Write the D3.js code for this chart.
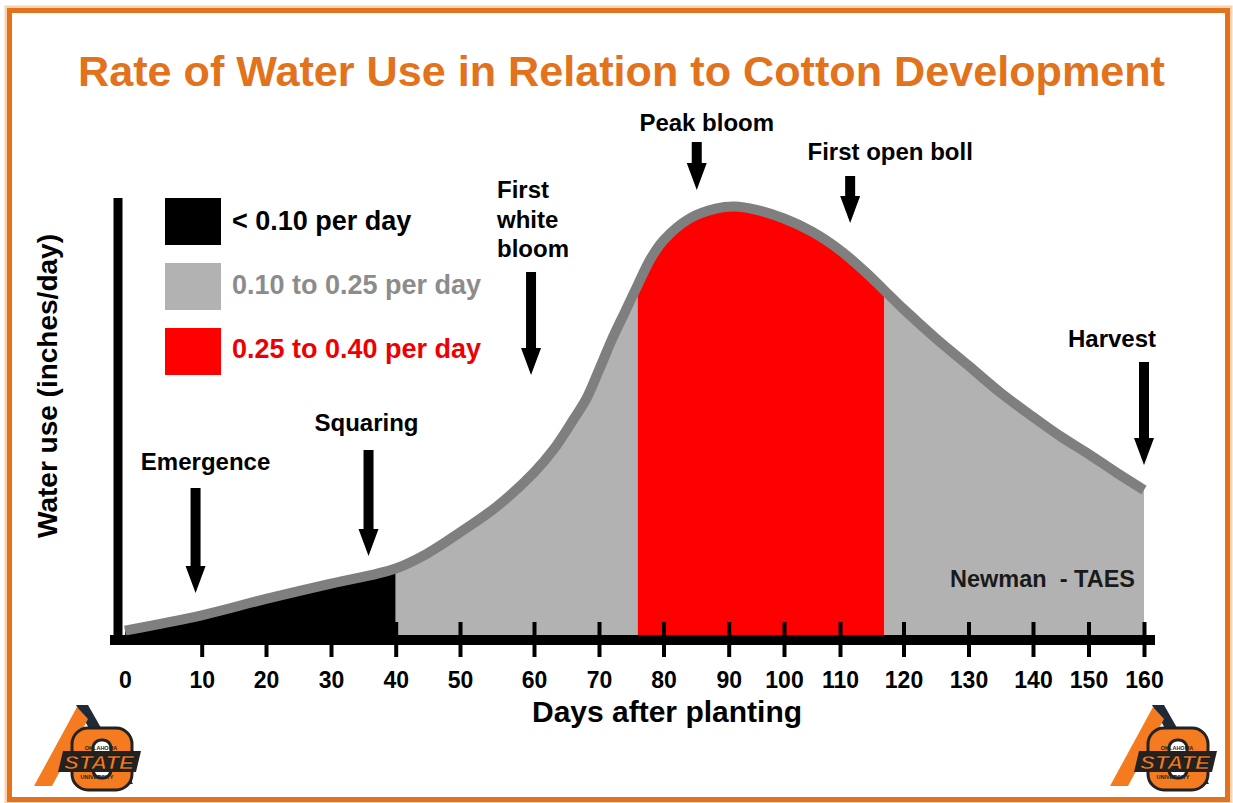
<!DOCTYPE html>
<html>
<head>
<meta charset="utf-8">
<script src="https://cdnjs.cloudflare.com/ajax/libs/d3/7.8.5/d3.min.js"></script>
<style>
  body { margin: 0; background: #fff; }
  svg { display: block; font-family: "Liberation Sans", Arial, sans-serif; font-weight: bold; }
</style>
</head>
<body>
<div id="chart"></div>
<script>
// days after planting and water use (inches/day)
const days = [0, 10, 20, 30, 40, 45, 50, 55, 60, 63, 66, 68, 70, 72, 74, 76, 78, 80, 84, 88, 91, 95, 100, 105, 110, 114, 117, 120, 125, 130, 135, 140, 145, 150, 155, 160];
const waterUse = [0.005, 0.019, 0.034, 0.048, 0.062, 0.076, 0.095, 0.119, 0.150, 0.171, 0.198, 0.217, 0.244, 0.272, 0.297, 0.322, 0.346, 0.363, 0.383, 0.392, 0.394, 0.391, 0.383, 0.371, 0.354, 0.334, 0.317, 0.300, 0.273, 0.248, 0.223, 0.201, 0.183, 0.167, 0.150, 0.134];

// rate classes and the day ranges they cover
const rateLabels = ["< 0.10 per day", "0.10 to 0.25 per day", "0.25 to 0.40 per day"];
const bandStart = [0, 40, 76, 117];
const bandEnd = [40, 76, 117, 160];
const bandRate = [0, 1, 2, 1];

// growth stages
const stageNames = [["Emergence"], ["Squaring"], ["First", "white", "bloom"], ["Peak bloom"], ["First open boll"], ["Harvest"]];
const stageDays = [9.2, 35.8, 59.6, 85.1, 111.6, 160];

const tickDays = [0, 10, 20, 30, 40, 50, 60, 70, 80, 90, 100, 110, 120, 130, 140, 150, 160];

// ---- layout
const W = 1233, H = 803;
const axisPx = [125, 201.7, 266, 331, 395.7, 460, 534, 599, 663.5, 728.7, 784, 840, 903.5, 968.5, 1033, 1088.5, 1144];
const rateColors = ["#000000", "#b2b2b2", "#ff0000"];
const rateText = ["#000000", "#8c8c8c", "#ee0000"];
const orange = "#e2721c";

// label placement for each stage: dx of text from arrow, text baseline, arrow top, arrow tip
const stageLayout = [
  {dx: 10, base: 470, top: 488, tip: 593, anchor: "middle"},
  {dx: -2, base: 431, top: 450, tip: 556, anchor: "middle"},
  {dx: -34, base: 198, top: 272, tip: 375, anchor: "start"},
  {dx: 10, base: 131, top: 142, tip: 190, anchor: "middle"},
  {dx: 40, base: 160, top: 176, tip: 223, anchor: "middle"},
  {dx: -32, base: 347, top: 362, tip: 465, anchor: "middle"}
];

const svg = d3.select("#chart").append("svg")
  .attr("width", W).attr("height", H);

// frame
svg.append("rect").attr("x", 9.5).attr("y", 10.5).attr("width", 1218).attr("height", 789)
  .attr("fill", "none").attr("stroke", "#f8d3b0").attr("stroke-width", 10);
svg.append("rect").attr("x", 9.5).attr("y", 10.5).attr("width", 1218).attr("height", 789)
  .attr("fill", "#fff").attr("stroke", orange).attr("stroke-width", 5);

// title
svg.append("text").attr("x", 78).attr("y", 86)
  .attr("textLength", 1087).attr("lengthAdjust", "spacingAndGlyphs")
  .attr("font-size", 42).attr("fill", orange)
  .text("Rate of Water Use in Relation to Cotton Development");

const x = d3.scaleLinear().domain(tickDays).range(axisPx);
const y = d3.scaleLinear().domain([0, 0.4]).range([636, 200]);

const pts = days.map((d, i) => ({day: d, v: waterUse[i]}));

const curve = d3.curveCatmullRom.alpha(0.5);
const area = d3.area()
  .x(d => x(d.day)).y0(y(0)).y1(d => y(d.v))
  .curve(curve);
const line = d3.line()
  .x(d => x(d.day)).y(d => y(d.v))
  .curve(curve);

// one clipped copy of the area per band
const defs = svg.append("defs");
bandStart.forEach((s, i) => {
  defs.append("clipPath").attr("id", "band" + i)
    .append("rect")
    .attr("x", x(s)).attr("y", 0)
    .attr("width", x(bandEnd[i]) - x(s)).attr("height", H);
  svg.append("path")
    .datum(pts)
    .attr("d", area)
    .attr("clip-path", `url(#band${i})`)
    .attr("fill", rateColors[bandRate[i]]);
});

svg.append("path")
  .datum(pts)
  .attr("d", line)
  .attr("fill", "none")
  .attr("stroke", "#7f7f7f")
  .attr("stroke-width", 10);

// axes
svg.append("line").attr("x1", 118).attr("x2", 118).attr("y1", 198).attr("y2", 645)
  .attr("stroke", "#000").attr("stroke-width", 9);
svg.append("line").attr("x1", 110).attr("x2", 1155).attr("y1", 640).attr("y2", 640)
  .attr("stroke", "#000").attr("stroke-width", 10);

const gx = svg.append("g").attr("transform", "translate(0,640)")
  .call(d3.axisBottom(x).tickValues(tickDays).tickSize(17).tickFormat(d3.format("d")));
gx.attr("font-family", null).attr("font-size", null);
gx.select(".domain").remove();
gx.selectAll(".tick line")
  .attr("y1", -18).attr("stroke", "#000").attr("stroke-width", 4)
  .filter(d => d === 0).remove();
gx.selectAll(".tick text")
  .attr("y", 48).attr("dy", null)
  .attr("font-size", 23).attr("fill", "#000");

svg.append("text").attr("x", 667).attr("y", 722)
  .attr("text-anchor", "middle").attr("font-size", 30)
  .text("Days after planting");

svg.append("text")
  .attr("transform", "translate(57,386) rotate(-90)")
  .attr("text-anchor", "middle").attr("font-size", 28)
  .text("Water use (inches/day)");

// legend
const leg = svg.append("g");
rateLabels.forEach((t, i) => {
  leg.append("rect").attr("x", 165).attr("y", 198 + i * 65)
    .attr("width", 56).attr("height", 47).attr("fill", rateColors[i]);
  leg.append("text").attr("x", 232).attr("y", 230 + i * 64)
    .attr("font-size", 27).attr("fill", rateText[i]).text(t);
});

// stage arrows
stageNames.forEach((lines, i) => {
  const L = stageLayout[i];
  const ax = x(stageDays[i]);
  const t = svg.append("text")
    .attr("x", ax + L.dx).attr("y", L.base)
    .attr("text-anchor", L.anchor).attr("font-size", 24).attr("fill", "#000");
  lines.forEach((s, j) => {
    t.append("tspan").attr("x", ax + L.dx).attr("dy", j === 0 ? 0 : 29.5).text(s);
  });
  const hl = 27;
  svg.append("path")
    .attr("d", `M${ax - 5},${L.top} L${ax + 5},${L.top} L${ax + 5},${L.tip - hl} L${ax + 10},${L.tip - hl}
      L${ax},${L.tip} L${ax - 10},${L.tip - hl} L${ax - 5},${L.tip - hl} Z`)
    .attr("fill", "#000");
});

svg.append("text").attr("x", 1135).attr("y", 587)
  .attr("text-anchor", "end").attr("font-size", 23.5).attr("fill", "#1a1a1a")
  .attr("xml:space", "preserve").style("white-space", "pre")
  .text("Newman  - TAES");

// OSU logos in the lower corners
function drawLogo(dx) {
  const g = svg.append("g").attr("transform", `translate(${dx},0)`);
  g.append("path").attr("d", "M76,705 L88,705 L133,784 L120,784 Z").attr("fill", "#1f2a36");
  g.append("path").attr("d", "M77,707 L88,719 L52,786 L34,786 Z").attr("fill", "#f47b20");
  g.append("rect").attr("x", 72).attr("y", 728).attr("width", 60).attr("height", 62).attr("rx", 16)
    .attr("fill", "#f47b20").attr("stroke", "#222").attr("stroke-width", 3);
  g.append("rect").attr("x", 93).attr("y", 740).attr("width", 18).attr("height", 38).attr("rx", 8)
    .attr("fill", "#fff").attr("stroke", "#222").attr("stroke-width", 3);
  g.append("path").attr("d", "M63,751 L141,751 L136,772 L58,772 Z").attr("fill", "#222");
  g.append("text").attr("x", 99).attr("y", 769).attr("text-anchor", "middle")
    .attr("font-size", 19).attr("font-style", "italic").attr("fill", "#f47b20")
    .attr("stroke", "#111").attr("stroke-width", 0.6)
    .attr("textLength", 70).attr("lengthAdjust", "spacingAndGlyphs").text("STATE");
  g.append("text").attr("x", 101).attr("y", 750).attr("text-anchor", "middle")
    .attr("font-size", 5.5).attr("fill", "#222").text("OKLAHOMA");
  g.append("text").attr("x", 97).attr("y", 779).attr("text-anchor", "middle")
    .attr("font-size", 5.5).attr("fill", "#222").text("UNIVERSITY");
}
drawLogo(0);
drawLogo(1076);
</script>
</body>
</html>
